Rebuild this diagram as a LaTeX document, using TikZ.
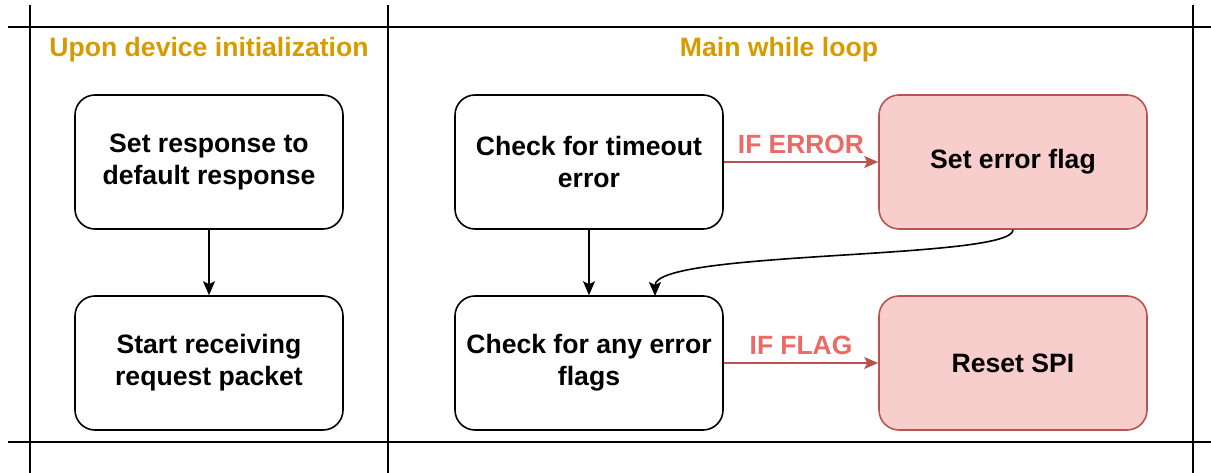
\documentclass[tikz,border=0pt]{standalone}
\usepackage{fontspec}
\setmainfont{Liberation Sans}
\usepackage{xcolor}
\usetikzlibrary{arrows.meta}

\definecolor{laneorange}{HTML}{D79B00}
\definecolor{errfill}{HTML}{F8CECC}
\definecolor{errline}{HTML}{B85450}
\definecolor{errtext}{HTML}{EA6B66}

\begin{document}
\begin{tikzpicture}[x=1pt, y=-1pt,
    box/.style = {draw, line width=1.6pt, rounded corners=20pt, minimum width=268pt,
                  minimum height=134pt, align=center, font=\fontsize{26.6}{32}\selectfont\bfseries},
    errbox/.style = {box, draw=errline, fill=errfill},
    title/.style = {text=laneorange, font=\fontsize{26.6}{32}\selectfont\bfseries},
    flow/.style = {line width=1.6pt, -{Stealth[length=14pt, width=12pt, inset=3pt]}},
    errflow/.style = {flow, draw=errline, fill=errline},
    cond/.style = {text=errtext, font=\fontsize{26.4}{32}\selectfont\bfseries}]
    \useasboundingbox (0,0) rectangle (1211,473);

    % Lanes
    \draw[line width=1.6pt] (8,27) -- (1211,27); % top
    \draw[line width=1.6pt] (8,442) -- (1211,442); % bottom
    \draw[line width=1.6pt] (30,5) -- (30,473);
    \draw[line width=1.6pt] (388,5) -- (388,473);
    \draw[line width=1.6pt] (1193,5) -- (1193,473);

    % Lane titles
    \node[title] (inittitle) at (209,50) {Upon device initialization};
    \node[title] (looptitle) at (779,50) {Main while loop};

    % Initialization
    \node[box] (setresp) at (209,162) {Set response to\\default response};
    \node[box] (startrx) at (209,363) {Start receiving\\request packet};
    \draw[flow] (setresp) -- (startrx);

    % Main loop
    \node[box] (timeout) at (589,162) {Check for timeout\\error};
    \node[box] (anyflag) at (589,363) {Check for any error\\flags};
    \node[errbox] (seterr) at (1013,162) {Set error flag};
    \node[errbox] (resetspi) at (1013,363) {Reset SPI};
    \coordinate (flagin) at (655,296);

    \draw[flow] (timeout) -- (anyflag);
    \draw[errflow] (timeout) -- node[cond, above=4pt] {IF ERROR} (seterr);
    \draw[errflow] (anyflag) -- node[cond, above=4pt] {IF FLAG} (resetspi);
    % Error flag back to the flag check
    \draw[flow] (seterr.south) .. controls (1013,260) and (655,250) .. (flagin);
\end{tikzpicture}
\end{document}
